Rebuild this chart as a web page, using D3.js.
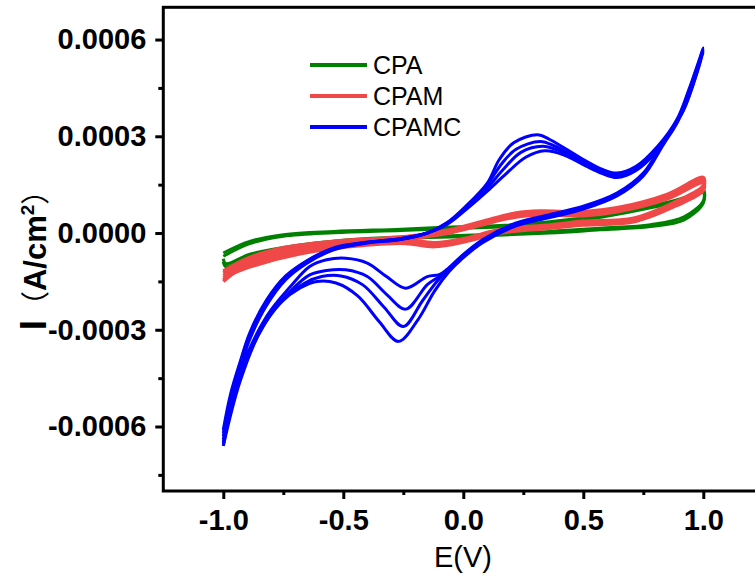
<!DOCTYPE html>
<html>
<head>
<meta charset="utf-8">
<script src="https://cdn.jsdelivr.net/npm/d3@7"></script>
<style>
  body { margin: 0; background: #fff; }
  svg { display: block; }
</style>
</head>
<body>
<script>
// CV curves, potential E (V) vs current I
// current values are written in units of 1e-4 A/cm2
const UNIT = 1e-4;

const cpaCycle1 = [
  [-1.0, -0.62], [-0.89, -0.26], [-0.75, -0.05], [-0.54, 0.05], [-0.26, 0.12], [-0.05, 0.19],
  [0.15, 0.23], [0.36, 0.35], [0.58, 0.55], [0.78, 0.83], [0.94, 1.14], [1.0, 1.34],
  [1.0, 0.93], [0.92, 0.41], [0.78, 0.2], [0.57, 0.1], [0.36, 0.0], [0.01, -0.11],
  [-0.40, -0.21], [-0.68, -0.42], [-0.89, -0.73], [-0.99, -1.04], [-1.0, -0.89]
];
const cpaCycle2 = [
  [-1.0, -0.72], [-0.89, -0.33], [-0.75, -0.1], [-0.54, 0.01], [-0.26, 0.08], [-0.05, 0.14],
  [0.15, 0.19], [0.36, 0.3], [0.58, 0.5], [0.78, 0.78], [0.94, 1.08], [1.0, 1.26],
  [1.0, 1.0], [0.92, 0.5], [0.78, 0.26], [0.57, 0.15], [0.36, 0.05], [0.01, -0.07],
  [-0.40, -0.17], [-0.68, -0.37], [-0.89, -0.66], [-0.99, -0.95], [-1.0, -0.8]
];

const cpamCycle1 = [
  [-1.0, -1.24], [-0.89, -0.83], [-0.75, -0.52], [-0.54, -0.31], [-0.33, -0.21], [-0.19, -0.11],
  [-0.06, 0.05], [0.08, 0.31], [0.22, 0.57], [0.32, 0.63], [0.5, 0.6], [0.64, 0.72],
  [0.85, 1.14], [1.0, 1.65],
  [1.0, 1.4], [0.89, 0.93], [0.71, 0.41], [0.5, 0.31], [0.36, 0.2], [0.15, 0.05],
  [0.01, -0.21], [-0.12, -0.36], [-0.24, -0.26], [-0.4, -0.31], [-0.68, -0.58],
  [-0.89, -0.98], [-1.0, -1.45]
];
const cpamCycle2 = [
  [-1.0, -1.32], [-0.89, -0.9], [-0.75, -0.58], [-0.54, -0.36], [-0.33, -0.26], [-0.19, -0.15],
  [-0.06, 0.0], [0.08, 0.26], [0.22, 0.5], [0.32, 0.56], [0.5, 0.54], [0.64, 0.66],
  [0.85, 1.06], [1.0, 1.56],
  [1.0, 1.32], [0.89, 0.86], [0.71, 0.35], [0.5, 0.25], [0.36, 0.15], [0.15, 0.0],
  [0.01, -0.26], [-0.12, -0.42], [-0.24, -0.32], [-0.4, -0.37], [-0.68, -0.64],
  [-0.89, -1.05], [-1.0, -1.38]
];
const cpamCycle3 = [
  [-1.0, -1.18], [-0.89, -0.76], [-0.75, -0.46], [-0.54, -0.26], [-0.33, -0.16], [-0.19, -0.07],
  [-0.06, 0.09], [0.08, 0.36], [0.22, 0.62], [0.32, 0.68], [0.5, 0.66], [0.64, 0.78],
  [0.85, 1.2], [1.0, 1.72],
  [1.0, 1.47], [0.89, 0.99], [0.71, 0.46], [0.5, 0.36], [0.36, 0.25], [0.15, 0.1],
  [0.01, -0.16], [-0.12, -0.3], [-0.24, -0.21], [-0.4, -0.26], [-0.68, -0.53],
  [-0.89, -0.92], [-1.0, -1.5]
];

const cpamcCycle1 = [
  [-1.0, -6.4], [-0.97, -5.3], [-0.93, -4.2], [-0.89, -3.3], [-0.82, -2.25], [-0.74, -1.45],
  [-0.65, -0.93], [-0.54, -0.52], [-0.40, -0.31], [-0.26, -0.2], [-0.15, 0.0], [-0.07, 0.31],
  [0.01, 0.83], [0.10, 1.55], [0.15, 2.28], [0.21, 2.8], [0.31, 3.05], [0.36, 2.9],
  [0.50, 2.28], [0.58, 1.97], [0.64, 1.86], [0.72, 2.07], [0.81, 2.69], [0.89, 3.52],
  [0.94, 4.45], [1.0, 5.74],
  [0.92, 3.93], [0.83, 2.79], [0.75, 1.86], [0.64, 1.24], [0.5, 0.83], [0.36, 0.57],
  [0.22, 0.31], [0.08, -0.21], [-0.01, -0.73], [-0.07, -1.14], [-0.1, -1.29], [-0.15, -1.35],
  [-0.24, -1.71], [-0.32, -1.35], [-0.40, -0.93], [-0.49, -0.78], [-0.57, -0.83], [-0.64, -1.04],
  [-0.72, -1.66], [-0.82, -2.59], [-0.93, -4.34], [-1.0, -6.6]
];
const cpamcCycle2 = [
  [-1.0, -6.3], [-0.97, -5.2], [-0.93, -4.1], [-0.89, -3.2], [-0.82, -2.18], [-0.74, -1.4],
  [-0.65, -0.9], [-0.54, -0.5], [-0.40, -0.3], [-0.26, -0.19], [-0.15, 0.0], [-0.07, 0.3],
  [0.01, 0.8], [0.10, 1.5], [0.16, 2.15], [0.22, 2.6], [0.32, 2.84], [0.38, 2.7],
  [0.50, 2.2], [0.58, 1.92], [0.64, 1.8], [0.72, 2.02], [0.81, 2.64], [0.89, 3.48],
  [0.94, 4.4], [1.0, 5.7],
  [0.92, 3.9], [0.83, 2.76], [0.75, 1.83], [0.64, 1.21], [0.5, 0.8], [0.36, 0.54],
  [0.22, 0.28], [0.08, -0.24], [-0.01, -0.76], [-0.07, -1.17], [-0.1, -1.35], [-0.15, -1.6],
  [-0.24, -2.36], [-0.32, -1.9], [-0.40, -1.35], [-0.49, -1.14], [-0.57, -1.16], [-0.64, -1.3],
  [-0.72, -1.8], [-0.82, -2.7], [-0.93, -4.4], [-1.0, -6.5]
];
const cpamcCycle3 = [
  [-1.0, -6.2], [-0.97, -5.1], [-0.93, -4.05], [-0.89, -3.15], [-0.82, -2.12], [-0.74, -1.36],
  [-0.65, -0.87], [-0.54, -0.48], [-0.40, -0.29], [-0.26, -0.18], [-0.15, 0.0], [-0.07, 0.28],
  [0.01, 0.75], [0.10, 1.4], [0.17, 2.0], [0.24, 2.5], [0.33, 2.69], [0.40, 2.55],
  [0.50, 2.15], [0.58, 1.88], [0.64, 1.76], [0.72, 1.98], [0.81, 2.6], [0.89, 3.44],
  [0.94, 4.36], [1.0, 5.66],
  [0.92, 3.87], [0.83, 2.73], [0.75, 1.8], [0.64, 1.18], [0.5, 0.77], [0.36, 0.51],
  [0.22, 0.25], [0.08, -0.27], [-0.01, -0.8], [-0.07, -1.2], [-0.11, -1.5], [-0.17, -2.1],
  [-0.25, -2.9], [-0.33, -2.3], [-0.42, -1.6], [-0.51, -1.33], [-0.59, -1.35], [-0.66, -1.55],
  [-0.74, -2.0], [-0.83, -2.85], [-0.93, -4.5], [-1.0, -6.5]
];
const cpamcCycle4 = [
  [-1.0, -6.1], [-0.97, -5.0], [-0.93, -4.0], [-0.89, -3.1], [-0.82, -2.08], [-0.74, -1.33],
  [-0.65, -0.85], [-0.54, -0.46], [-0.40, -0.28], [-0.26, -0.17], [-0.15, 0.0], [-0.07, 0.26],
  [0.01, 0.72], [0.10, 1.3], [0.18, 1.85], [0.26, 2.35], [0.34, 2.55], [0.42, 2.42],
  [0.51, 2.08], [0.58, 1.84], [0.64, 1.72], [0.72, 1.94], [0.81, 2.56], [0.89, 3.4],
  [0.94, 4.32], [1.0, 5.62],
  [0.92, 3.84], [0.83, 2.7], [0.75, 1.77], [0.64, 1.15], [0.5, 0.74], [0.36, 0.48],
  [0.22, 0.22], [0.08, -0.3], [-0.01, -0.83], [-0.06, -1.2], [-0.12, -1.8], [-0.19, -2.7],
  [-0.27, -3.36], [-0.35, -2.75], [-0.44, -1.95], [-0.53, -1.55], [-0.61, -1.5], [-0.68, -1.7],
  [-0.76, -2.15], [-0.84, -2.95], [-0.93, -4.6], [-1.0, -6.6]
];

const seriesNames = ["CPA", "CPAM", "CPAMC"];
const seriesColors = ["#008000", "#F04848", "#0000FF"];
const seriesCycles = [
  [cpaCycle1, cpaCycle2],
  [cpamCycle1, cpamCycle2, cpamCycle3],
  [cpamcCycle1, cpamcCycle2, cpamcCycle3, cpamcCycle4]
];

const xMajor = [-1.0, -0.5, 0.0, 0.5, 1.0];
const xMinor = [-0.75, -0.25, 0.25, 0.75];
const yMajor = [0.0006, 0.0003, 0.0, -0.0003, -0.0006];
const yMinor = [0.00045, 0.00015, -0.00015, -0.00045, -0.00075];

const W = 755, H = 579;
const svg = d3.select("body").append("svg")
  .attr("width", W)
  .attr("height", H);

// plot box, right part is cut off by the picture edge
const x = d3.scaleLinear().domain([-1.25, 1.25]).range([163.3, 763.3]);
const y = d3.scaleLinear().domain([-0.0008, 0.0007]).range([491, 7.3]);

const font = "'Liberation Sans', Arial, sans-serif";
// plain hyphen for negatives, like the original
const fmt = p => d => d3.format(p)(d).replace("\u2212", "-");

// curves
const line = d3.line()
  .x(d => x(d[0]))
  .y(d => y(d[1] * UNIT))
  .curve(d3.curveCatmullRom.alpha(0.5));

const plot = svg.append("g");
seriesCycles.forEach((cycles, i) => {
  cycles.forEach(c => {
    plot.append("path")
      .datum(c)
      .attr("fill", "none")
      .attr("stroke", seriesColors[i])
      .attr("stroke-width", i === 1 ? 3.6 : 3)
      .attr("stroke-linejoin", "round")
      .attr("d", line);
  });
});

// frame
svg.append("rect")
  .attr("x", x.range()[0])
  .attr("y", y.range()[1])
  .attr("width", x.range()[1] - x.range()[0])
  .attr("height", y.range()[0] - y.range()[1])
  .attr("fill", "none")
  .attr("stroke", "#000")
  .attr("stroke-width", 3);

// bottom axis
const xAxis = svg.append("g").attr("transform", "translate(0," + y.range()[0] + ")");
xAxis.call(d3.axisBottom(x).tickValues(xMajor).tickSize(8).tickFormat(fmt(".1f")));
xAxis.append("g").call(d3.axisBottom(x).tickValues(xMinor).tickSize(4).tickFormat(""));
xAxis.selectAll(".domain").remove();
xAxis.selectAll("line").attr("stroke", "#000").attr("stroke-width", 3);
xAxis.selectAll("text")
  .attr("y", 39)
  .attr("dy", 0)
  .style("font-family", font)
  .style("font-weight", "bold")
  .style("font-size", "29px")
  .attr("fill", "#000");

// left axis
const yAxis = svg.append("g").attr("transform", "translate(" + x.range()[0] + ",0)");
yAxis.call(d3.axisLeft(y).tickValues(yMajor).tickSize(8).tickFormat(fmt(".4f")));
yAxis.append("g").call(d3.axisLeft(y).tickValues(yMinor).tickSize(5).tickFormat(""));
yAxis.selectAll(".domain").remove();
yAxis.selectAll("line").attr("stroke", "#000").attr("stroke-width", 3);
yAxis.selectAll("text")
  .attr("x", -17)
  .style("font-family", font)
  .style("font-weight", "bold")
  .style("font-size", "29px")
  .attr("fill", "#000");

// axis titles
svg.append("text")
  .attr("x", 463)
  .attr("y", 567)
  .attr("text-anchor", "middle")
  .style("font-family", font)
  .style("font-size", "29px")
  .text("E(V)");

const yTitle = svg.append("text")
  .attr("transform", "translate(46,253) rotate(-90)")
  .attr("text-anchor", "middle")
  .style("font-family", font)
  .style("font-weight", "bold");
yTitle.append("tspan").style("font-size", "37px").text("I");
yTitle.append("tspan").style("font-size", "29px").style("font-weight", "normal")
  .style("font-family", "'Noto Sans CJK SC'").text("（");
yTitle.append("tspan").style("font-size", "31px").text("A/cm");
yTitle.append("tspan").style("font-size", "19px").attr("dy", -12).text("2");
yTitle.append("tspan").style("font-size", "29px").style("font-weight", "normal")
  .attr("dy", 12).style("font-family", "'Noto Sans CJK SC'").text("）");

// legend
const legend = svg.append("g");
seriesNames.forEach((name, i) => {
  const ly = 65 + i * 31;
  legend.append("line")
    .attr("x1", 310).attr("x2", 367)
    .attr("y1", ly).attr("y2", ly)
    .attr("stroke", seriesColors[i])
    .attr("stroke-width", 4);
  legend.append("text")
    .attr("x", 373)
    .attr("y", ly + 9)
    .style("font-family", font)
    .style("font-size", "25px")
    .text(name);
});
</script>
</body>
</html>
